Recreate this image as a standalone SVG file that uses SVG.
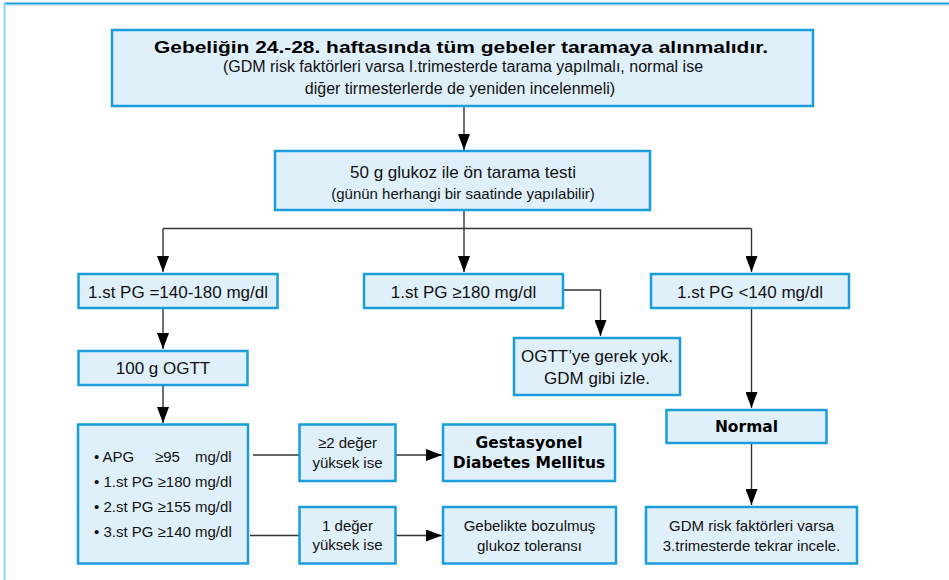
<svg xmlns="http://www.w3.org/2000/svg" width="949" height="580" viewBox="0 0 949 580">
  <style>
    .box { fill: #dff0fa; stroke: #1a9ddb; stroke-width: 2.5; }
    .t { font-family: "Liberation Sans", Arial, sans-serif; font-size: 15px; fill: #111; text-anchor: middle; }
    .big { font-family: "Liberation Sans", Arial, sans-serif; font-size: 17px; fill: #111; text-anchor: middle; }
    .s { font-family: "Liberation Sans", Arial, sans-serif; font-size: 16px; fill: #111; text-anchor: middle; }
    .l { font-family: "Liberation Sans", Arial, sans-serif; font-size: 15px; fill: #111; }
    .hb { font-family: "DejaVu Sans", Verdana, sans-serif; font-weight: bold; font-size: 15.5px; fill: #000; text-anchor: middle; }
    .ttl { font-family: "Liberation Sans", Arial, sans-serif; font-weight: bold; font-size: 17px; fill: #000; text-anchor: middle; }
    .c { fill: none; stroke: #333; stroke-width: 1.4; }
  </style>
  <defs>
    <marker id="arr" viewBox="0 0 16 12" refX="16" refY="6" markerWidth="16" markerHeight="12" markerUnits="userSpaceOnUse" orient="auto">
      <path d="M0,0 L16,6 L0,12 Z" fill="#000"/>
    </marker>
  </defs>

  <rect width="949" height="580" fill="#fff"/>
  <!-- page frame -->
  <g id="frame">
    <line x1="4" y1="3.5" x2="949" y2="3.5" stroke="#1a9ddb" stroke-width="2"/>
    <line x1="4" y1="5" x2="949" y2="5" stroke="#8fd3f2" stroke-width="1.2"/>
    <line x1="4.5" y1="3" x2="4.5" y2="580" stroke="#8fd3f2" stroke-width="2"/>
  </g>

  <!-- connectors -->
  <g id="connectors">
    <path class="c" d="M464,106 V150" marker-end="url(#arr)"/>
    <path class="c" d="M464,211 V272" marker-end="url(#arr)"/>
    <path class="c" d="M163,228.5 H751.5"/>
    <path class="c" d="M163,228.5 V272" marker-end="url(#arr)"/>
    <path class="c" d="M751.5,228.5 V272" marker-end="url(#arr)"/>
    <path class="c" d="M163,309 V349" marker-end="url(#arr)"/>
    <path class="c" d="M163,385 V423" marker-end="url(#arr)"/>
    <path class="c" d="M564,290 H600.5 V336" marker-end="url(#arr)"/>
    <path class="c" d="M751.5,309 V408" marker-end="url(#arr)"/>
    <path class="c" d="M751.5,443 V505" marker-end="url(#arr)"/>
    <path class="c" d="M253,455 H299"/>
    <path class="c" d="M250,535.5 H299"/>
    <path class="c" d="M396,455 H442" marker-end="url(#arr)"/>
    <path class="c" d="M396,535.5 H442" marker-end="url(#arr)"/>
  </g>

  <g id="screening">
    <rect class="box" x="112" y="30" width="701" height="76"/>
    <text class="ttl" x="461" y="53" textLength="614" lengthAdjust="spacingAndGlyphs">Gebeliğin 24.-28. haftasında tüm gebeler taramaya alınmalıdır.</text>
    <text class="s" x="463" y="72">(GDM risk faktörleri varsa I.trimesterde tarama yapılmalı, normal ise</text>
    <text class="s" x="460" y="94">diğer tirmesterlerde de yeniden incelenmeli)</text>
  </g>

  <g id="pretest">
    <rect class="box" x="275" y="151" width="375" height="59"/>
    <text class="big" x="463" y="178">50 g glukoz ile ön tarama testi</text>
    <text class="t" x="463" y="199">(günün herhangi bir saatinde yapılabilir)</text>
  </g>

  <g id="pg-mid">
    <rect class="box" x="78.5" y="274" width="199" height="34"/>
    <text class="big" x="178" y="297.5">1.st PG =140-180 mg/dl</text>
  </g>

  <g id="pg-high">
    <rect class="box" x="364" y="274" width="199" height="34"/>
    <text class="big" x="463.5" y="297.5">1.st PG ≥180 mg/dl</text>
  </g>

  <g id="pg-low">
    <rect class="box" x="651" y="274" width="198" height="34"/>
    <text class="big" x="750" y="297.5">1.st PG &lt;140 mg/dl</text>
  </g>

  <g id="ogtt">
    <rect class="box" x="78.5" y="351" width="169" height="34"/>
    <text class="big" x="163" y="374">100 g OGTT</text>
  </g>

  <g id="no-ogtt">
    <rect class="box" x="514" y="338" width="166" height="57"/>
    <text class="big" x="597" y="362">OGTT’ye gerek yok.</text>
    <text class="big" x="597" y="384">GDM gibi izle.</text>
  </g>

  <g id="normal">
    <rect class="box" x="666.5" y="410" width="160" height="33"/>
    <text class="hb" x="746.5" y="432">Normal</text>
  </g>

  <g id="criteria">
    <rect class="box" x="78" y="424.5" width="170" height="139"/>
    <text class="l" x="94" y="462">• APG</text>
    <text class="l" x="155" y="462">≥95</text>
    <text class="l" x="195" y="462">mg/dl</text>
    <text class="l" x="94" y="487">• 1.st PG ≥180 mg/dl</text>
    <text class="l" x="94" y="512">• 2.st PG ≥155 mg/dl</text>
    <text class="l" x="94" y="537">• 3.st PG ≥140 mg/dl</text>
  </g>

  <g id="two-high">
    <rect class="box" x="299.5" y="424.5" width="96" height="56.5"/>
    <text class="t" x="347.5" y="448">≥2 değer</text>
    <text class="t" x="347.5" y="468">yüksek ise</text>
  </g>

  <g id="one-high">
    <rect class="box" x="299.5" y="507" width="96" height="56.5"/>
    <text class="t" x="347.5" y="531">1 değer</text>
    <text class="t" x="347.5" y="550">yüksek ise</text>
  </g>

  <g id="gdm">
    <rect class="box" x="443" y="424.5" width="172" height="56.5"/>
    <text class="hb" x="529" y="448">Gestasyonel</text>
    <text class="hb" x="529" y="468">Diabetes Mellitus</text>
  </g>

  <g id="igt">
    <rect class="box" x="443" y="507" width="173" height="56.5"/>
    <text class="t" x="529.5" y="531">Gebelikte bozulmuş</text>
    <text class="t" x="529.5" y="551">glukoz toleransı</text>
  </g>

  <g id="recheck">
    <rect class="box" x="646" y="507" width="211" height="56.5"/>
    <text class="t" x="751.5" y="531">GDM risk faktörleri varsa</text>
    <text class="t" x="751.5" y="551">3.trimesterde tekrar incele.</text>
  </g>
</svg>
